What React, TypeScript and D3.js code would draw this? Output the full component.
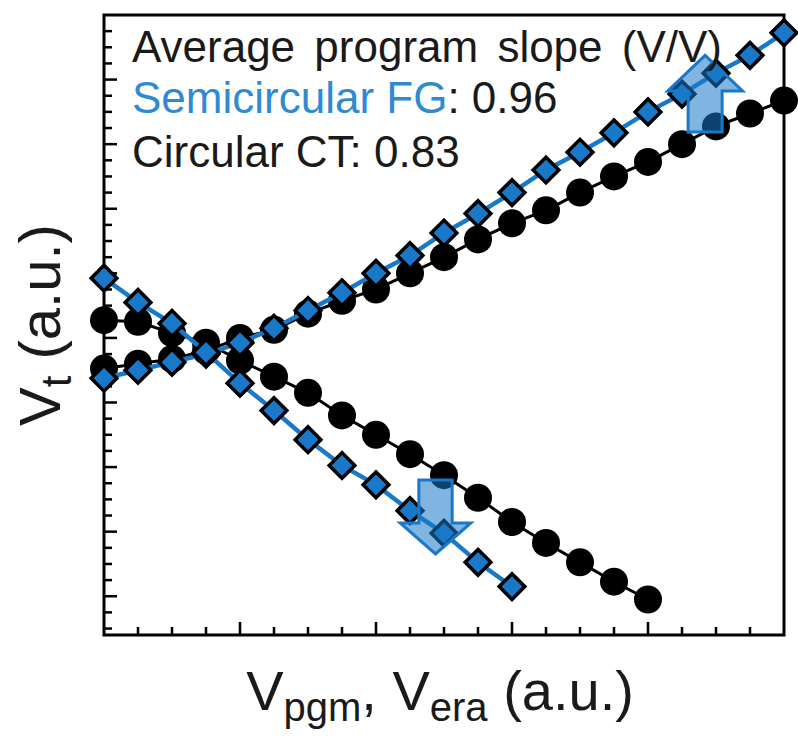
import React from 'react';
import * as d3 from 'd3';

// x positions are step indices (one step per minor tick)
const pgmSteps = d3.range(0, 21);
const fgEraSteps = d3.range(0, 13);
const ctEraSteps = d3.range(0, 17);

// Vt (a.u.)
const ctProgram = [14.1, 14.4, 14.7, 15.2, 16.0, 16.5, 17.5, 18.3, 19.0, 20.0, 21.0, 22.1, 23.1, 23.9, 25.0, 26.0, 26.9, 28.0, 29.1, 29.9, 30.7];
const ctErase = [17.1, 17.0, 16.3, 15.7, 14.6, 13.6, 12.6, 11.2, 10.0, 8.8, 7.5, 6.1, 4.6, 3.3, 2.1, 0.9, -0.2];
const fgProgram = [13.5, 14.0, 14.5, 15.0, 15.7, 16.6, 17.7, 18.8, 20.0, 21.1, 22.5, 23.7, 25.0, 26.4, 27.5, 28.7, 30.0, 31.1, 32.4, 33.5, 34.9];
const fgErase = [19.7, 18.2, 16.9, 15.1, 13.2, 11.5, 9.7, 8.1, 6.9, 5.3, 3.9, 2.1, 0.6];

const annotationLines = ['Average program slope (V/V)'];
const seriesNames = ['Semicircular FG', 'Circular CT'];
const slopes = ['0.96', '0.83'];

const BLUE = '#1a78c8';
const TEXT_BLUE = '#2f8ad2';

const App = () => {
  const width = 798;
  const height = 745;
  const margin = { top: 15, right: 14, bottom: 110, left: 104 };

  const x = d3.scaleLinear().domain([0, 20]).range([margin.left, width - margin.right]);
  const y = d3.scaleLinear().domain([-2.4, 36]).range([height - margin.bottom, margin.top]);

  const xTicks = d3.range(1, 20);
  const yTicks = d3.range(-2, 36);

  const line = d3.line<[number, number]>()
    .x(d => x(d[0]))
    .y(d => y(d[1]));

  const pts = (steps: number[], vals: number[]) => steps.map((s, i) => [s, vals[i]] as [number, number]);

  const diamond = d3.symbol().type(d3.symbolSquare).size(330)();

  // block arrow built in data units
  const arrow = (cx: number, hw: number, tail: number, base: number, headHw: number, tip: number) => {
    const p: [number, number][] = [
      [cx - hw, tail], [cx - hw, base], [cx - headHw, base], [cx, tip],
      [cx + headHw, base], [cx + hw, base], [cx + hw, tail],
    ];
    return 'M' + p.map(d => x(d[0]) + ',' + y(d[1])).join('L') + 'Z';
  };

  const x0 = x(0);
  const y0 = y(-2.4);

  return (
    <svg width={width} height={height} style={{ position: 'absolute', left: 0, top: 0, background: '#fff' }}
      fontFamily="'Liberation Sans', Arial, sans-serif">
      {/* ticks */}
      {xTicks.map(t => (
        <line key={'xt' + t} x1={x(t)} x2={x(t)} y1={y0} y2={y0 - (t % 4 === 0 ? 13 : 8)} stroke="#000" strokeWidth={2.5} />
      ))}
      {yTicks.map(t => (
        <line key={'yt' + t} x1={x0} x2={x0 + (t % 4 === 0 ? 13 : 8)} y1={y(t)} y2={y(t)} stroke="#000" strokeWidth={2.5} />
      ))}
      <rect x={x0} y={margin.top} width={x(20) - x0} height={y0 - margin.top} fill="none" stroke="#000" strokeWidth={3} />

      {/* Circular CT */}
      <path d={line(pts(pgmSteps, ctProgram)) || ''} fill="none" stroke="#000" strokeWidth={3} />
      <path d={line(pts(ctEraSteps, ctErase)) || ''} fill="none" stroke="#000" strokeWidth={3} />
      {pts(pgmSteps, ctProgram).concat(pts(ctEraSteps, ctErase)).map((d, i) => (
        <circle key={'c' + i} cx={x(d[0])} cy={y(d[1])} r={14} fill="#000" />
      ))}

      {/* Semicircular FG */}
      <path d={line(pts(pgmSteps, fgProgram)) || ''} fill="none" stroke={BLUE} strokeWidth={4.5} />
      <path d={line(pts(fgEraSteps, fgErase)) || ''} fill="none" stroke={BLUE} strokeWidth={4.5} />
      {pts(pgmSteps, fgProgram).concat(pts(fgEraSteps, fgErase)).map((d, i) => (
        <path key={'d' + i} d={diamond || ''} transform={`translate(${x(d[0])},${y(d[1])}) rotate(45)`}
          fill={BLUE} stroke="#000" strokeWidth={3.5} />
      ))}

      {/* arrows */}
      <path d={arrow(17.68, 0.5, 28.75, 31.3, 1.1, 33.5)} fill={BLUE} fillOpacity={0.55} stroke={BLUE} strokeWidth={3} strokeLinejoin="miter" />
      <path d={arrow(9.75, 0.49, 7.2, 4.54, 1.04, 2.62)} fill={BLUE} fillOpacity={0.55} stroke={BLUE} strokeWidth={3} strokeLinejoin="miter" />

      {/* annotation */}
      <g fontSize={44} fill="#1a1a1a">
        <text x={132} y={62} wordSpacing={7}>{annotationLines[0]}</text>
        <text x={132} y={113}><tspan fill={TEXT_BLUE}>{seriesNames[0]}</tspan>: {slopes[0]}</text>
        <text x={132} y={167}>{seriesNames[1]}: {slopes[1]}</text>
      </g>

      {/* axis titles */}
      <text x={440} y={710} fontSize={56} textAnchor="middle" fill="#1a1a1a">
        V<tspan fontSize={40} dy={11}>pgm</tspan><tspan dy={-11}>, V</tspan><tspan fontSize={40} dy={11}>era</tspan><tspan dy={-11}> (a.u.)</tspan>
      </text>
      <text transform="translate(60,325) rotate(-90)" fontSize={58} textAnchor="middle" fill="#1a1a1a">
        V<tspan fontSize={42} dy={11}>t</tspan><tspan dy={-11}> (a.u.)</tspan>
      </text>
    </svg>
  );
};

export default App;
